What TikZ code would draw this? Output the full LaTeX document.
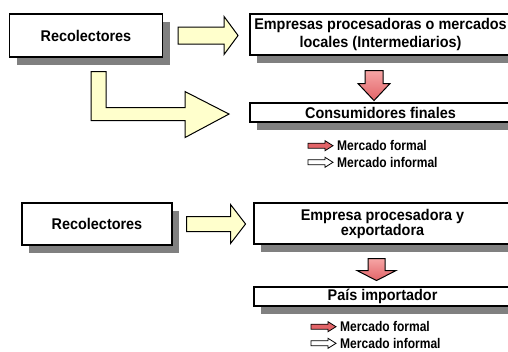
\documentclass[tikz,border=0pt]{standalone}
\usepackage{fontspec}
\setmainfont{Liberation Sans}[FakeStretch=0.93]
\newfontfamily\leyfont{Liberation Sans}[FakeStretch=0.86]
\usetikzlibrary{shadows, calc, positioning}

\definecolor{amarillo}{RGB}{255,255,204}
\definecolor{rojoclaro}{RGB}{246,165,165}
\definecolor{rojo}{RGB}{226,100,104}
\definecolor{sombra}{RGB}{128,128,128}

% block arrow to the right: start, length, shaft half, head half, head length, style
\newcommand{\flechader}[6]{%
  \pgfmathsetmacro\lcuerpo{#2-#5}%
  \pgfmathsetmacro\dpunta{#4-#3}%
  \draw[#6] ($#1+(0,-#3)$) -- ++(\lcuerpo,0) -- ++(0,-\dpunta) -- ++(#5,#4)
    -- ++(-#5,#4) -- ++(0,-\dpunta) -- ++(-\lcuerpo,0) -- cycle;}
% block arrow downwards: start, length, shaft half, head half, head length, style
\newcommand{\flechaabajo}[6]{%
  \pgfmathsetmacro\lcuerpo{#2-#5}%
  \pgfmathsetmacro\dpunta{#4-#3}%
  \draw[#6] ($#1+(-#3,0)$) -- ++(0,\lcuerpo) -- ++(-\dpunta,0) -- ++(#4,#5)
    -- ++(#4,-#5) -- ++(-\dpunta,0) -- ++(0,-\lcuerpo) -- cycle;}

\begin{document}
\begin{tikzpicture}[x=1pt, y=-1pt,
    caja/.style={rectangle, draw=black, line width=1.1pt, fill=white, inner sep=1pt, align=center,
      font=\bfseries\fontsize{15.5}{18}\selectfont,
      drop shadow={shadow xshift=7pt, shadow yshift=-8pt, fill=sombra, opacity=1}},
    flecha/.style={draw=black, line width=1pt, fill=amarillo},
    flecharoja/.style={draw=black, line width=1pt, top color=rojoclaro, bottom color=rojo},
    leyenda/.style={anchor=west, inner sep=0pt, font=\leyfont\bfseries\fontsize{14}{16}\selectfont}]
    \useasboundingbox (0,0) rectangle (508,351);

    % Upper chain: local market
    \node[caja, minimum width=153pt, minimum height=43pt] (rec1) at (86,35.5) {Recolectores};
    \node[caja, minimum width=261pt, minimum height=41pt] (emp1) at (380.5,34.5) {Empresas procesadoras o mercados\\locales (Intermediarios)};
    \node[caja, minimum width=261pt, minimum height=19pt] (cons) at (380.5,112.5) {Consumidores finales};

    \flechader{(rec1.east)+(15,0)}{60}{8.5}{19}{14}{flecha}
    \flechaabajo{(emp1.south)+(-6.5,15)}{30}{9}{16}{17}{flecharoja}
    \draw[flecha] ($(rec1.south)+(5,14)$) -- ++(15,0) -- ++(0,36) -- ++(79,0) -- ++(0,-16)
        -- ++(44,22.5) -- ++(-44,23.5) -- ++(0,-17) -- ++(-94,0) -- cycle;

    \node[leyenda] (form1) at (337,145.7) {Mercado formal};
    \node[leyenda] (inf1) at (337,162.3) {Mercado informal};

    % Lower chain: export
    \node[caja, minimum width=150pt, minimum height=42pt] (rec2) at (97,224) {Recolectores};
    \node[caja, minimum width=257pt, minimum height=41pt, font=\bfseries\fontsize{15.5}{15}\selectfont] (emp2) at (382.5,223.5) {Empresa procesadora y\\exportadora};
    \node[caja, minimum width=257pt, minimum height=19pt] (pais) at (382.5,296.5) {País importador};

    \flechader{(rec2.east)+(14,0)}{59}{7.5}{19.5}{15}{flecha}
    \flechaabajo{(emp2.south)+(-6,14)}{22}{8.5}{19.5}{10}{flecharoja}

    \node[leyenda] (form2) at (340,326.7) {Mercado formal};
    \node[leyenda] (inf2) at (340,343.3) {Mercado informal};

    % legend arrows
    \foreach \ley/\relleno in {form1/rojo, inf1/white, form2/rojo, inf2/white} {
        \flechader{(\ley.west)+(-29,0)}{25}{2.5}{5}{8}{draw=black, line width=0.8pt, fill=\relleno}
    }
\end{tikzpicture}
\end{document}
